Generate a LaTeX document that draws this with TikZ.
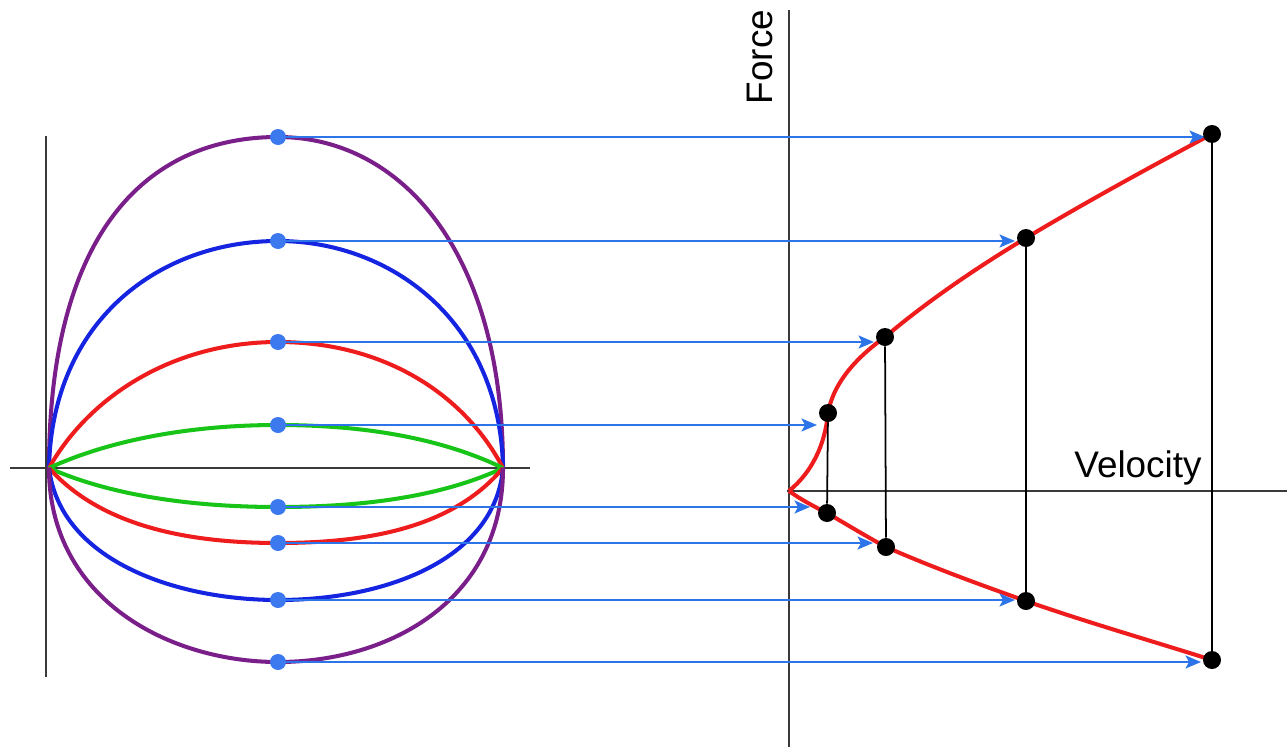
\documentclass[tikz,border=0pt]{standalone}
\usepackage{fontspec}
\setmainfont{Liberation Sans}
\usetikzlibrary{arrows.meta,backgrounds}
\definecolor{Ink}{HTML}{3A3A3A}
\definecolor{Plum}{HTML}{7A1F8A}
\definecolor{Royal}{HTML}{1424E0}
\definecolor{Scarlet}{HTML}{EE1C1C}
\definecolor{Leaf}{HTML}{18C418}
\definecolor{Sky}{HTML}{2C74E8}
\definecolor{Probe}{HTML}{3C78EE}
\tikzset{
  axisline/.style={draw=Ink, line width=1.2pt},
  orbit/.style={line width=2.3pt},
  probe/.style={circle, fill=Probe, minimum size=3.2mm, inner sep=0pt},
  sample/.style={circle, fill=black, minimum size=3.6mm, inner sep=0pt},
  proj/.style={-{Stealth[length=3.1mm,width=2.6mm,inset=0.7mm]}, line width=1.1pt,
    draw=Sky, shorten >=2.2mm},
  drop/.style={draw=black, line width=1pt},
  axislabel/.style={font=\fontsize{21}{25}\selectfont, inner sep=0pt}
}

\begin{document}
\begin{tikzpicture}[x=0.2mm,y=-0.2mm]
  \useasboundingbox (0,0) rectangle (1287,747);
  % pivots of the swing curves and the origin of the force plot
  \coordinate (lp) at (49,468);
  \coordinate (rp) at (503,468);
  \coordinate (o) at (789,491);
  % probe points on the left
  \node[probe] (src1) at (278,137) {};
  \node[probe] (src2) at (278,241) {};
  \node[probe] (src3) at (278,342) {};
  \node[probe] (src4) at (278,425) {};
  \node[probe] (src5) at (278,507) {};
  \node[probe] (src6) at (278,543) {};
  \node[probe] (src7) at (278,600) {};
  \node[probe] (src8) at (278,662) {};
  % samples on the force--velocity curve
  \node[sample] (pt1) at (1212,134) {};
  \node[sample] (pt2) at (1026,238) {};
  \node[sample] (pt3) at (885,337) {};
  \node[sample] (pt4) at (828,413) {};
  \node[sample] (pt5) at (827,513) {};
  \node[sample] (pt6) at (886,547) {};
  \node[sample] (pt7) at (1026,601) {};
  \node[sample] (pt8) at (1212,660) {};
  \node[axislabel, rotate=90, anchor=base] (force) at (772,57) {Force};
  \node[axislabel, anchor=base] (vel) at (1138,477) {Velocity};

  \begin{scope}[on background layer]
    % axes
    \draw[axisline] (46,136) -- (46,677);
    \draw[axisline] (10,468) -- (530,468);
    \draw[axisline] (789,10) -- (789,747);
    \draw[axisline] (787,491) -- (1287,491);
    % upper halves
    \draw[orbit, Plum] (lp) .. controls (49,235) and (145,137) .. (src1.center)
      .. controls (400,137) and (503,250) .. (rp);
    \draw[orbit, Royal] (lp) .. controls (52,320) and (160,241) .. (src2.center)
      .. controls (390,241) and (500,320) .. (rp);
    \draw[orbit, Scarlet] (lp) .. controls (90,395) and (175,342) .. (src3.center)
      .. controls (385,342) and (465,395) .. (rp);
    \draw[orbit, Leaf] (lp) .. controls (110,440) and (190,425) .. (src4.center)
      .. controls (370,425) and (445,440) .. (rp);
    % lower halves
    \draw[orbit, Leaf] (lp) .. controls (110,495) and (190,507) .. (src5.center)
      .. controls (370,507) and (445,495) .. (rp);
    \draw[orbit, Scarlet] (lp) .. controls (100,525) and (185,543) .. (src6.center)
      .. controls (375,543) and (455,525) .. (rp);
    \draw[orbit, Royal] (lp) .. controls (60,560) and (175,600) .. (src7.center)
      .. controls (385,600) and (495,560) .. (rp);
    \draw[orbit, Plum] (lp) .. controls (49,600) and (170,662) .. (src8.center)
      .. controls (390,662) and (503,600) .. (rp);
    % force--velocity curve
    \draw[orbit, Scarlet] (o) .. controls (812,472) and (825,445) .. (pt4.center)
      .. controls (834,380) and (860,355) .. (pt3.center)
      .. controls (930,299) and (981,265) .. (pt2.center)
      .. controls (1086,202) and (1152,166) .. (pt1.center);
    \draw[orbit, Scarlet] (o) .. controls (800,499) and (813,506) .. (pt5.center)
      .. controls (846,524) and (869,538) .. (pt6.center)
      .. controls (934,568) and (981,585) .. (pt7.center)
      .. controls (1086,622) and (1152,641) .. (pt8.center);
    % verticals
    \draw[drop] (pt1) -- (pt8);
    \draw[drop] (pt2) -- (pt7);
    \draw[drop] (pt3) -- (pt6);
    \draw[drop] (pt4) -- (pt5);
    % projections
    \draw[proj, shorten >=1.4mm] (src1) -- (src1 -| pt1);
    \draw[proj] (src2) -- (src2 -| pt2);
    \draw[proj] (src3) -- (src3 -| pt3);
    \draw[proj] (src4) -- (src4 -| pt4);
    \draw[proj, shorten >=3.4mm] (src5) -- (src5 -| pt5);
    \draw[proj, shorten >=2.6mm] (src6) -- (src6 -| pt6);
    \draw[proj] (src7) -- (src7 -| pt7);
    \draw[proj] (src8) -- (src8 -| pt8);
  \end{scope}
\end{tikzpicture}
\end{document}
